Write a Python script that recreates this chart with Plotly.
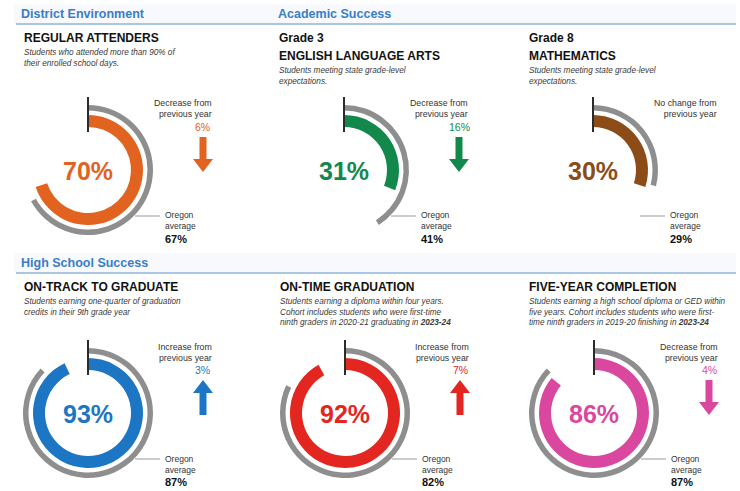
import plotly.graph_objects as go

W, H = 740, 491

# ---------------- data ----------------
section_titles = ["District Environment", "Academic Success", "High School Success"]
panel_kickers = ["", "Grade 3", "Grade 8", "", "", ""]
panel_titles = ["REGULAR ATTENDERS", "ENGLISH LANGUAGE ARTS", "MATHEMATICS",
                "ON-TRACK TO GRADUATE", "ON-TIME GRADUATION", "FIVE-YEAR COMPLETION"]
panel_subtitles = [
    "Students who attended more than 90% of<br>their enrolled school days.",
    "Students meeting state grade-level<br>expectations.",
    "Students meeting state grade-level<br>expectations.",
    "Students earning one-quarter of graduation<br>credits in their 9th grade year",
    "Students earning a diploma within four years.<br>Cohort includes students who were first-time<br>ninth graders in 2020-21 graduating in <b>2023-24</b>",
    "Students earning a high school diploma or GED within<br>five years. Cohort includes students who were first-<br>time ninth graders in 2019-20 finishing in <b>2023-24</b>",
]
district_values = [70, 31, 30, 93, 92, 86]
oregon_values = [67, 41, 29, 87, 82, 87]
change_values = [-6, -16, 0, 3, 7, -4]

# ---------------- style / layout ----------------
colors = ["#e2621f", "#12884a", "#8c4c18", "#1c76c3", "#e3261f", "#d9489e"]
GRAY = "#8e8e8e"
BLUE_HDR = "#3b7dc6"
LINE_HDR = "#a9c6e4"
FONT = "Arial, Liberation Sans, sans-serif"

centers_x = [88, 344, 593, 88, 345, 594]
centers_y = [170, 170, 170, 413, 413, 413]
title_x = [22, 277, 527, 22, 278, 527]
title_y_top = [38, 38, 38, 287, 287, 287]

R_OUT, R_OUT_IN = 65, 59.5
R_IN, R_IN_IN = 55, 43


def px(x):
    return x / W


def py(y):
    return 1 - y / H


def dom(cx, cy, r):
    return dict(x=[px(cx - r), px(cx + r)], y=[py(cy + r), py(cy - r)])


fig = go.Figure()
annotations = []
shapes = []

# section header bands & lines
for yb in (24, 273):
    shapes.append(dict(type="rect", xref="paper", yref="paper",
                       x0=px(14), x1=px(736), y0=py(yb), y1=py(yb - 20),
                       fillcolor="#f7f9fc", line=dict(width=0), layer="below"))
    shapes.append(dict(type="line", xref="paper", yref="paper",
                       x0=px(16), x1=px(736), y0=py(yb), y1=py(yb),
                       line=dict(color=LINE_HDR, width=2)))

for text, (x, y) in zip(section_titles, [(19, 14), (276, 14), (19, 263)]):
    annotations.append(dict(text=f"<b>{text}</b>", x=px(x), y=py(y), xref="paper", yref="paper",
                            xanchor="left", yanchor="middle", showarrow=False,
                            font=dict(family=FONT, size=12.5, color=BLUE_HDR)))

for i in range(6):
    cx, cy = centers_x[i], centers_y[i]
    col = colors[i]
    # Oregon average ring
    fig.add_trace(go.Pie(values=[oregon_values[i], 100 - oregon_values[i]],
                         hole=R_OUT_IN / R_OUT, sort=False, direction="clockwise", rotation=0,
                         marker=dict(colors=[GRAY, "rgba(0,0,0,0)"], line=dict(width=0)),
                         textinfo="none", hoverinfo="skip", showlegend=False,
                         domain=dom(cx, cy, R_OUT)))
    # District ring
    fig.add_trace(go.Pie(values=[district_values[i], 100 - district_values[i]],
                         hole=R_IN_IN / R_IN, sort=False, direction="clockwise", rotation=0,
                         marker=dict(colors=[col, "rgba(0,0,0,0)"], line=dict(width=0)),
                         textinfo="none", hoverinfo="skip", showlegend=False,
                         domain=dom(cx, cy, R_IN)))
    # vertical tick at 12 o'clock
    shapes.append(dict(type="line", xref="paper", yref="paper",
                       x0=px(cx), x1=px(cx), y0=py(cy - 73), y1=py(cy - 38),
                       line=dict(color="#2b2b2b", width=2)))
    # leader to Oregon average
    shapes.append(dict(type="line", xref="paper", yref="paper",
                       x0=px(cx + 47), x1=px(cx + 72), y0=py(cy + 46), y1=py(cy + 46),
                       line=dict(color="#9a9a9a", width=1)))
    # centre value
    annotations.append(dict(text=f"<b>{district_values[i]}%</b>", x=px(cx), y=py(cy + 1),
                            xref="paper", yref="paper", xanchor="center", yanchor="middle",
                            showarrow=False, font=dict(family=FONT, size=25, color=col)))
    # Oregon average text
    annotations.append(dict(text="Oregon<br>average", x=px(cx + 75), y=py(cy + 51),
                            xref="paper", yref="paper", xanchor="left", yanchor="middle",
                            showarrow=False, align="left",
                            font=dict(family=FONT, size=8.5, color="#333")))
    annotations.append(dict(text=f"<b>{oregon_values[i]}%</b>", x=px(cx + 75), y=py(cy + 69),
                            xref="paper", yref="paper", xanchor="left", yanchor="middle",
                            showarrow=False, font=dict(family=FONT, size=11, color="#111")))
    # change text
    ch = change_values[i]
    if ch < 0:
        lbl = "Decrease from<br>previous year"
    elif ch > 0:
        lbl = "Increase from<br>previous year"
    else:
        lbl = "No change from<br>previous year"
    annotations.append(dict(text=lbl, x=px(cx + 126), y=py(cy - 61), xref="paper", yref="paper",
                            xanchor="right", yanchor="middle", align="right", showarrow=False,
                            font=dict(family=FONT, size=8.8, color="#333")))
    if ch != 0:
        ax = cx + 115
        annotations.append(dict(text=f"{abs(ch)}%", x=px(ax), y=py(cy - 43), xref="paper",
                                yref="paper", xanchor="center", yanchor="middle", showarrow=False,
                                font=dict(family=FONT, size=10.5, color=col)))
        top, bot = cy - 33, cy + 2
        sw, hw, hl = 3.5, 10, 13
        if ch < 0:
            pts = [(ax - sw, top), (ax + sw, top), (ax + sw, bot - hl), (ax + hw, bot - hl),
                   (ax, bot), (ax - hw, bot - hl), (ax - sw, bot - hl)]
        else:
            pts = [(ax - sw, bot), (ax + sw, bot), (ax + sw, top + hl), (ax + hw, top + hl),
                   (ax, top), (ax - hw, top + hl), (ax - sw, top + hl)]
        path = "M " + " L ".join(f"{px(x):.5f},{py(y):.5f}" for x, y in pts) + " Z"
        shapes.append(dict(type="path", xref="paper", yref="paper", path=path,
                           fillcolor=col, line=dict(width=0)))
    # titles
    ty = title_y_top[i]
    if panel_kickers[i]:
        annotations.append(dict(text=f"<b>{panel_kickers[i]}</b>", x=px(title_x[i]), y=py(ty),
                                xref="paper", yref="paper", xanchor="left", yanchor="middle",
                                showarrow=False, font=dict(family=FONT, size=12, color="#111")))
        ty += 18
    annotations.append(dict(text=f"<b>{panel_titles[i]}</b>", x=px(title_x[i]), y=py(ty),
                            xref="paper", yref="paper", xanchor="left", yanchor="middle",
                            showarrow=False, font=dict(family=FONT, size=12, color="#111")))
    annotations.append(dict(text=f"<i>{panel_subtitles[i]}</i>", x=px(title_x[i]), y=py(ty + 8),
                            xref="paper", yref="paper", xanchor="left", yanchor="top",
                            align="left", showarrow=False,
                            font=dict(family=FONT, size=8.2, color="#3a3a3a")))

fig.update_layout(width=W, height=H, margin=dict(l=0, r=0, t=0, b=0),
                  paper_bgcolor="white", plot_bgcolor="white",
                  annotations=annotations, shapes=shapes, showlegend=False)

fig.write_html("out.html", config={"displayModeBar": False},
               post_script="document.body.style.margin='0px';document.body.style.overflow='hidden';")
